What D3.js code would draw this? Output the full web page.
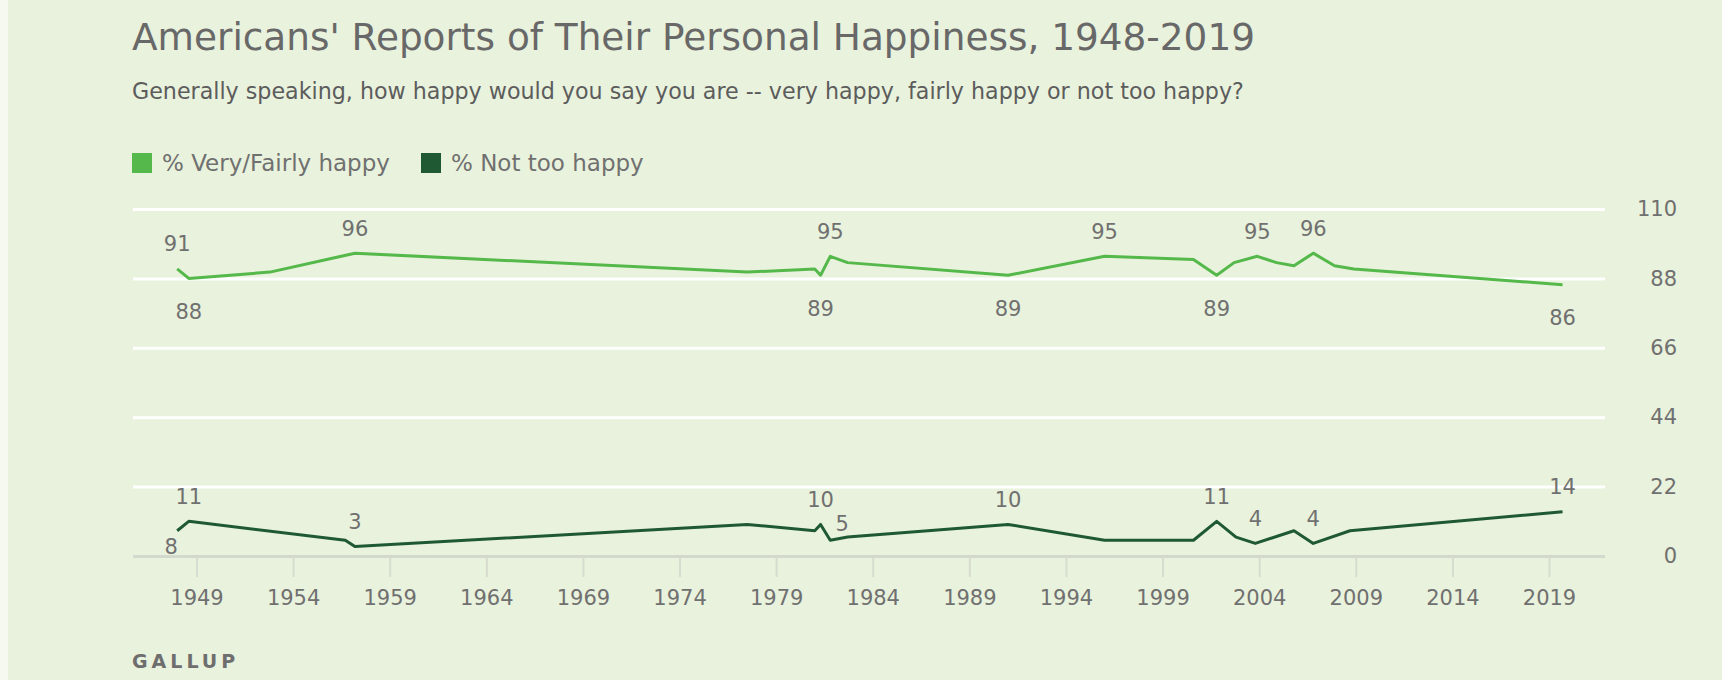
<!DOCTYPE html>
<html>
<head>
<meta charset="utf-8">
<script src="https://cdn.jsdelivr.net/npm/d3@7"></script>
<style>
  html, body { margin: 0; padding: 0; background: #e9f2dc; }
  svg { display: block; font-family: "DejaVu Sans", Verdana, sans-serif; }
</style>
</head>
<body>
<svg id="chart" width="1722" height="680"></svg>
<script>
// ---------- data ----------
const seriesNames = ["% Very/Fairly happy", "% Not too happy"];

const happyYears  = [1948.0, 1948.6, 1952.8, 1957.2, 1977.5, 1981.0, 1981.3, 1981.8, 1982.7, 1991.0, 1996.0, 2000.6, 2001.8, 2002.7, 2003.9, 2004.9, 2005.8, 2006.8, 2007.9, 2008.9, 2019.7];
const happyValues = [91, 88, 90, 96, 90, 91, 89, 95, 93, 89, 95, 94, 89, 93, 95, 93, 92, 96, 92, 91, 86];

const notHappyYears  = [1948.0, 1948.6, 1956.7, 1957.2, 1977.5, 1981.0, 1981.3, 1981.8, 1982.7, 1991.0, 1996.0, 2000.6, 2001.8, 2002.8, 2003.8, 2005.8, 2006.8, 2008.7, 2019.7];
const notHappyValues = [8, 11, 5, 3, 10, 8, 10, 5, 6, 10, 5, 5, 11, 6, 4, 8, 4, 8, 14];

// which points carry a value label, and on which side
const happyLabelIdx    = [0, 1, 3, 6, 7, 9, 10, 12, 14, 17, 20];
const happyLabelSide   = ["above", "below", "above", "below", "above", "below", "above", "below", "above", "above", "below"];
const notHappyLabelIdx  = [0, 1, 3, 6, 7, 9, 12, 14, 16, 18];
const notHappyLabelSide = ["belowLeft", "above", "above", "above", "aboveRight", "above", "above", "above", "above", "above"];

const xTickYears = [1949, 1954, 1959, 1964, 1969, 1974, 1979, 1984, 1989, 1994, 1999, 2004, 2009, 2014, 2019];
const yTickValues = [0, 22, 44, 66, 88, 110];

const title = "Americans' Reports of Their Personal Happiness, 1948-2019";
const subtitle = "Generally speaking, how happy would you say you are -- very happy, fairly happy or not too happy?";
const source = "GALLUP";

// ---------- styles ----------
const colLight = "#55b84a";
const colDark = "#1f5933";
const textGray = "#707070";

const svg = d3.select("#chart");

svg.append("rect").attr("x", 0).attr("y", 0).attr("width", 1722).attr("height", 680).attr("fill", "#e9f2dc");
svg.append("rect").attr("x", 0).attr("y", 0).attr("width", 8).attr("height", 680).attr("fill", "#f5f9f0");

const gridLeft = 133, gridRight = 1605;
const x = d3.scaleLinear().domain([1949, 2019]).range([196.5, 1549]);
const y = d3.scaleLinear().domain([0, 110]).range([556, 209]);

// title / subtitle
svg.append("text").attr("x", 132).attr("y", 50)
  .attr("font-size", 37.4).attr("fill", "#686868").text(title);
svg.append("text").attr("x", 132).attr("y", 99)
  .attr("font-size", 22.2).attr("fill", "#5c5c5c").text(subtitle);

// legend
const legendX = [132, 421];
const legendColors = [colLight, colDark];
seriesNames.forEach((name, i) => {
  svg.append("rect").attr("x", legendX[i]).attr("y", 153).attr("width", 20).attr("height", 20).attr("fill", legendColors[i]);
  svg.append("text").attr("x", legendX[i] + 30).attr("y", 171)
    .attr("font-size", 23).attr("fill", textGray).text(name);
});

// y grid + labels
const yAxis = d3.axisRight(y).tickValues(yTickValues).tickSize(gridRight - gridLeft).tickPadding(0);
const gy = svg.append("g").attr("transform", `translate(${gridLeft},0)`).call(yAxis);
gy.select(".domain").remove();
gy.selectAll(".tick line").attr("stroke", d => d === 0 ? "#d3d9cc" : "#ffffff").attr("stroke-width", 3);
gy.selectAll(".tick text")
  .attr("x", 1677 - gridLeft).attr("text-anchor", "end")
  .attr("font-size", 21).attr("font-family", "'DejaVu Sans', sans-serif").attr("fill", textGray);

// x axis ticks + labels
const xAxis = d3.axisBottom(x).tickValues(xTickYears).tickSize(20).tickPadding(13).tickFormat(d3.format("d"));
const gx = svg.append("g").attr("transform", `translate(0,${y(0) + 1})`).call(xAxis);
gx.select(".domain").remove();
gx.selectAll(".tick line").attr("stroke", "#d6dccf").attr("stroke-width", 2);
gx.selectAll(".tick text").attr("font-size", 21).attr("font-family", "'DejaVu Sans', sans-serif").attr("fill", textGray);

// lines
const line = d3.line().x(d => x(d[0])).y(d => y(d[1]));
const happyData = happyYears.map((yr, i) => [yr, happyValues[i]]);
const notHappyData = notHappyYears.map((yr, i) => [yr, notHappyValues[i]]);

svg.append("path").datum(happyData).attr("d", line)
  .attr("fill", "none").attr("stroke", colLight).attr("stroke-width", 3).attr("stroke-linejoin", "round");
svg.append("path").datum(notHappyData).attr("d", line)
  .attr("fill", "none").attr("stroke", colDark).attr("stroke-width", 3).attr("stroke-linejoin", "round");

// value labels
const offsets = {
  above: [0, -25],
  below: [0, 33],
  belowLeft: [-6, 16],
  aboveRight: [12, -17]
};
function drawLabels(data, idx, sides) {
  idx.forEach((k, j) => {
    const d = data[k];
    const o = offsets[sides[j]];
    svg.append("text")
      .attr("x", x(d[0]) + o[0]).attr("y", y(d[1]) + o[1])
      .attr("dy", "0.36em").attr("text-anchor", "middle")
      .attr("font-size", 21).attr("fill", textGray)
      .text(d[1]);
  });
}
drawLabels(happyData, happyLabelIdx, happyLabelSide);
drawLabels(notHappyData, notHappyLabelIdx, notHappyLabelSide);

// source
svg.append("text").attr("x", 132).attr("y", 668)
  .attr("font-size", 19).attr("font-weight", "bold").attr("letter-spacing", 4)
  .attr("fill", "#6e6e6e").text(source);
</script>
</body>
</html>
